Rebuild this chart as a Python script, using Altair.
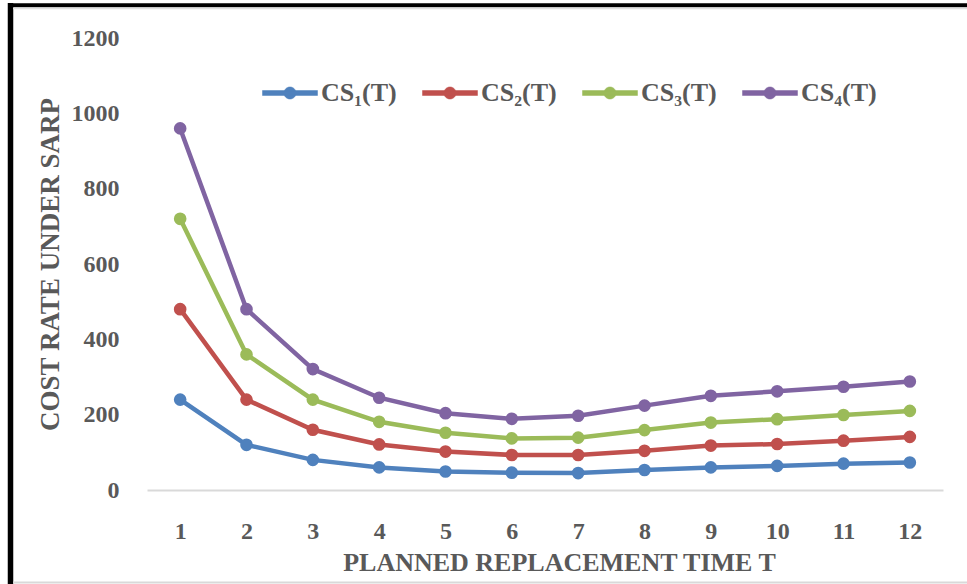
import altair as alt
import pandas as pd

# ---- data ----
T = [1, 2, 3, 4, 5, 6, 7, 8, 9, 10, 11, 12]
series_names = ["CS₁(T)", "CS₂(T)", "CS₃(T)", "CS₄(T)"]
cs1 = [240, 120, 80, 60, 49, 46, 45, 53, 60, 64, 70, 73]
cs2 = [480, 240, 160, 121, 102, 93, 93, 104, 118, 122, 131, 141]
cs3 = [720, 360, 240, 181, 152, 137, 139, 159, 179, 188, 199, 210]
cs4 = [960, 480, 321, 245, 204, 189, 197, 224, 250, 262, 274, 288]
y_ticks = [0, 200, 400, 600, 800, 1000, 1200]
colors = ["#4F81BD", "#C0504D", "#9BBB59", "#8064A2"]

rows = []
for name, vals in zip(series_names, [cs1, cs2, cs3, cs4]):
    for t, v in zip(T, vals):
        rows.append({"T": t, "series": name, "value": v})
df = pd.DataFrame(rows)

FONT = "Liberation Serif"
GRAY = "#595959"

W, H = 796, 452
PAD = {"left": 147, "top": 38, "right": 24, "bottom": 94}

# legend symbol: a bar with a dot in the middle (unit coordinates)
legend_symbol = ("M-1,-0.09L1,-0.09L1,0.09L-1,0.09Z "
                 "M0.22,0A0.22,0.22,0,1,1,-0.22,0A0.22,0.22,0,1,1,0.22,0Z")

x_enc = alt.X(
    "T:O",
    scale=alt.Scale(type="point", padding=0.5),
    axis=alt.Axis(
        title="PLANNED REPLACEMENT TIME T",
        labelAngle=0,
        labelFont=FONT, labelFontSize=24, labelFontWeight="bold", labelColor=GRAY,
        labelBaseline="alphabetic", labelPadding=48,
        ticks=False, tickSize=0,
        domainColor="#d9d9d9", domainWidth=2,
        grid=False,
        titleFont=FONT, titleFontSize=26, titleFontWeight="bold", titleColor=GRAY,
        titleBaseline="alphabetic", titleY=80, titleX=412, titleAlign="center",
    ),
)
y_enc = alt.Y(
    "value:Q",
    scale=alt.Scale(domain=[0, 1200]),
    axis=alt.Axis(
        title="COST RATE UNDER SARP",
        values=y_ticks, format="d",
        labelFont=FONT, labelFontSize=24, labelFontWeight="bold", labelColor=GRAY,
        labelPadding=28,
        ticks=False, tickSize=0, domain=False, grid=False,
        titleFont=FONT, titleFontSize=27, titleFontWeight="bold", titleColor=GRAY,
        titleAngle=270, titleBaseline="alphabetic", titleAlign="center",
        titleX=-89, titleY=226,
    ),
)
color_enc = alt.Color(
    "series:N",
    scale=alt.Scale(domain=series_names, range=colors),
    legend=alt.Legend(
        title=None, orient="none", direction="horizontal",
        legendX=115, legendY=27, padding=0,
        symbolType=legend_symbol, symbolSize=3025, symbolStrokeWidth=0.5,
        symbolOffset=0, labelOffset=3, columnPadding=24,
        labelFont=FONT, labelFontSize=26, labelFontWeight="bold", labelColor=GRAY,
        symbolOpacity=1,
    ),
)

base = alt.Chart(df)
lines = base.mark_line(strokeWidth=4.5).encode(x=x_enc, y=y_enc, color=color_enc)
points = base.mark_point(filled=True, size=160, opacity=1).encode(
    x=x_enc, y=y_enc, color=color_enc
)

one = alt.Data(values=[{"a": 1}])
left_bar = alt.Chart(one).mark_rule(color="black", strokeWidth=5.5).encode(
    x=alt.value(-136.5), y=alt.value(-35), y2=alt.value(546)
)
top_bar = alt.Chart(one).mark_rule(color="black", strokeWidth=4).encode(
    y=alt.value(-32.7), x=alt.value(-139), x2=alt.value(820)
)
top_shadow = alt.Chart(one).mark_rule(color="#e0e0e0", strokeWidth=1.5).encode(
    y=alt.value(-29.5), x=alt.value(-134), x2=alt.value(820)
)
bottom_line = alt.Chart(one).mark_rule(color="#d9d9d9", strokeWidth=2).encode(
    y=alt.value(544.5), x=alt.value(-134), x2=alt.value(820)
)

chart = (
    alt.layer(lines, points, left_bar, top_bar, top_shadow, bottom_line)
    .properties(width=W, height=H, padding=PAD,
                autosize=alt.AutoSizeParams(type="none"), background="white")
    .configure_view(strokeWidth=0)
)

chart.save("out.html", embed_options={"renderer": "svg", "actions": False})
